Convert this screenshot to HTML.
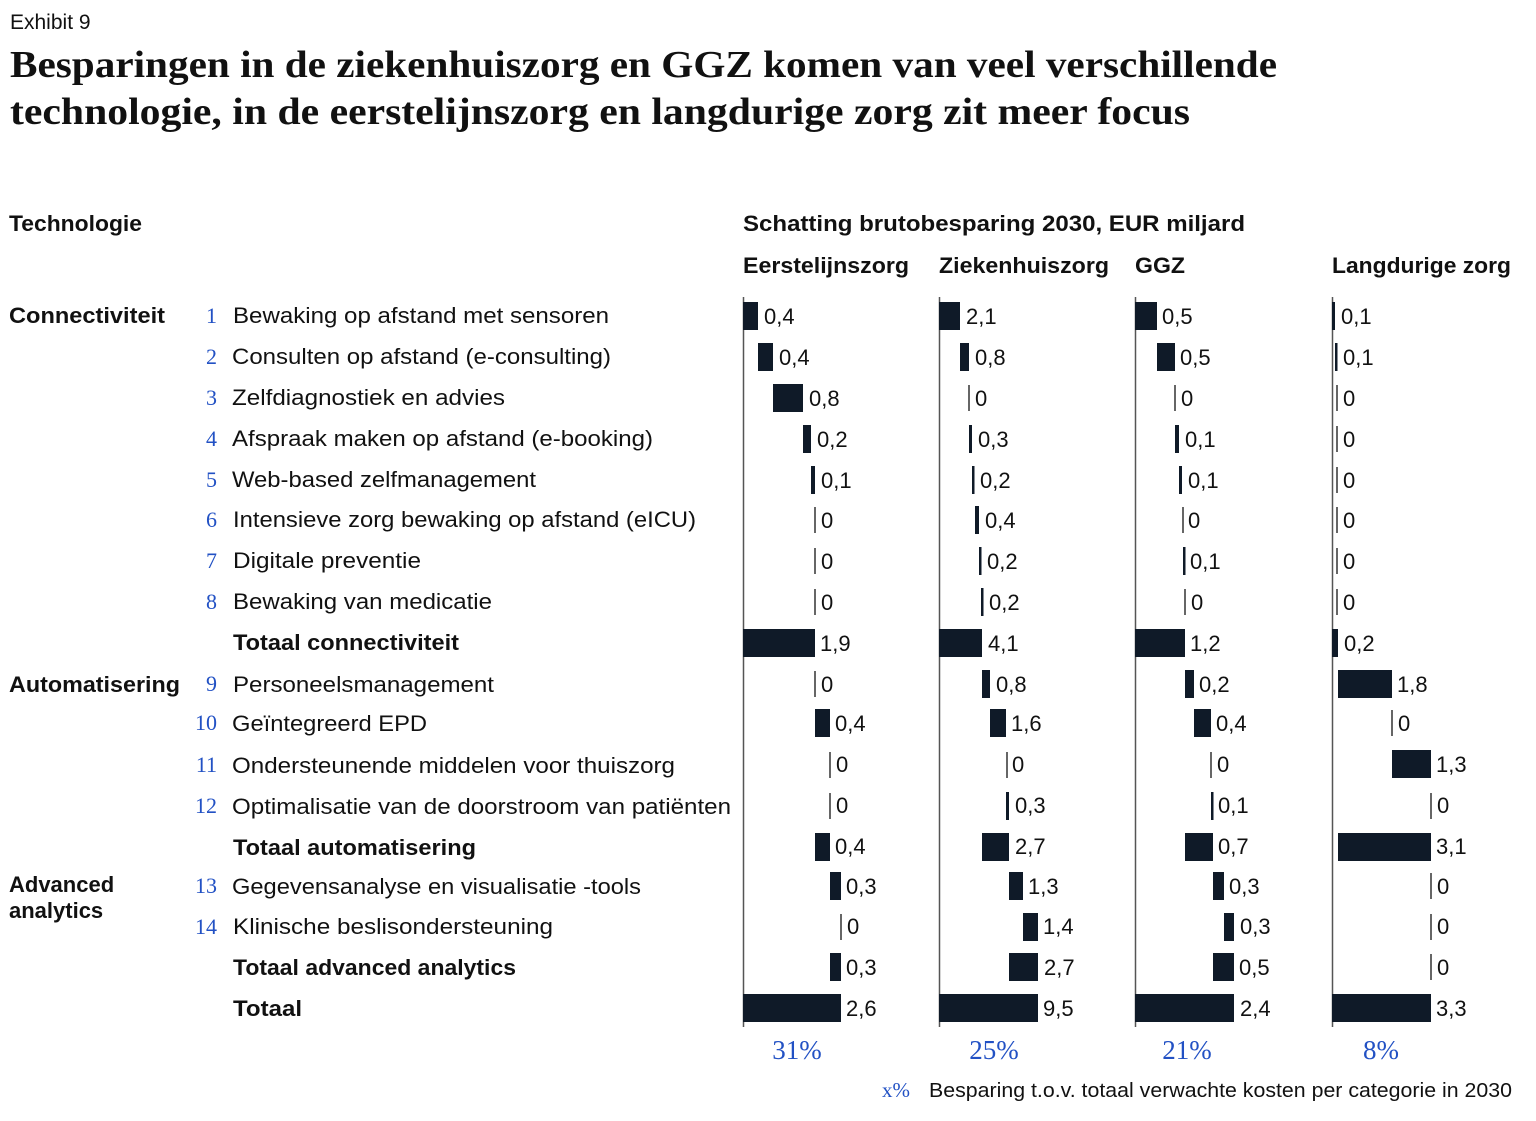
<!DOCTYPE html>
<html><head><meta charset="utf-8"><style>
html,body{margin:0;padding:0;background:#fff}
svg{display:block}
.s{font-family:"Liberation Sans",sans-serif;fill:#111}
.b{font-weight:bold}
.n{font-family:"Liberation Serif",serif;fill:#2251c4}
.v{font-family:"Liberation Sans",sans-serif;fill:#111;font-size:22px}
</style></head><body>
<svg width="1536" height="1121" viewBox="0 0 1536 1121" xmlns="http://www.w3.org/2000/svg">
<text class="s" x="10" y="29" font-size="21">Exhibit 9</text>
<text x="10" y="77" font-family="Liberation Serif,serif" font-weight="bold" font-size="38" fill="#111" textLength="1267" lengthAdjust="spacingAndGlyphs">Besparingen in de ziekenhuiszorg en GGZ komen van veel verschillende</text>
<text x="10" y="124" font-family="Liberation Serif,serif" font-weight="bold" font-size="38" fill="#111" textLength="1180" lengthAdjust="spacingAndGlyphs">technologie, in de eerstelijnszorg en langdurige zorg zit meer focus</text>

<g class="s b" font-size="22">
<text x="9" y="231" textLength="133" lengthAdjust="spacingAndGlyphs">Technologie</text>
<text x="743" y="231" textLength="502" lengthAdjust="spacingAndGlyphs">Schatting brutobesparing 2030,  EUR miljard</text>
<text x="743" y="273" textLength="166" lengthAdjust="spacingAndGlyphs">Eerstelijnszorg</text>
<text x="939" y="273" textLength="170" lengthAdjust="spacingAndGlyphs">Ziekenhuiszorg</text>
<text x="1135" y="273" textLength="50" lengthAdjust="spacingAndGlyphs">GGZ</text>
<text x="1332" y="273" textLength="179" lengthAdjust="spacingAndGlyphs">Langdurige zorg</text>
<text x="9" y="323" textLength="156" lengthAdjust="spacingAndGlyphs">Connectiviteit</text>
<text x="9" y="692" textLength="171" lengthAdjust="spacingAndGlyphs">Automatisering</text>
<text x="9" y="892">Advanced</text>
<text x="9" y="918">analytics</text>
</g>

<g class="n" font-size="22" text-anchor="end">
<text x="217" y="323">1</text><text x="217" y="364">2</text><text x="217" y="405">3</text><text x="217" y="446">4</text><text x="217" y="487">5</text><text x="217" y="527">6</text><text x="217" y="568">7</text><text x="217" y="609">8</text><text x="217" y="691">9</text><text x="217" y="730">10</text><text x="217" y="772">11</text><text x="217" y="813">12</text><text x="217" y="893">13</text><text x="217" y="934">14</text>
</g>

<g class="s" font-size="22">
<text x="233" y="323" textLength="376" lengthAdjust="spacingAndGlyphs">Bewaking op afstand met sensoren</text>
<text x="232" y="364" textLength="379" lengthAdjust="spacingAndGlyphs">Consulten op afstand (e-consulting)</text>
<text x="232" y="405" textLength="273" lengthAdjust="spacingAndGlyphs">Zelfdiagnostiek en advies</text>
<text x="232" y="446" textLength="421" lengthAdjust="spacingAndGlyphs">Afspraak maken op afstand (e-booking)</text>
<text x="232" y="487" textLength="304" lengthAdjust="spacingAndGlyphs">Web-based zelfmanagement</text>
<text x="233" y="527" textLength="463" lengthAdjust="spacingAndGlyphs">Intensieve zorg bewaking op afstand (eICU)</text>
<text x="233" y="568" textLength="188" lengthAdjust="spacingAndGlyphs">Digitale preventie</text>
<text x="233" y="609" textLength="259" lengthAdjust="spacingAndGlyphs">Bewaking van medicatie</text>
<text x="233" y="650" class="b" textLength="226" lengthAdjust="spacingAndGlyphs">Totaal connectiviteit</text>
<text x="233" y="692" textLength="261" lengthAdjust="spacingAndGlyphs">Personeelsmanagement</text>
<text x="232" y="731" textLength="195" lengthAdjust="spacingAndGlyphs">Geïntegreerd EPD</text>
<text x="232" y="773" textLength="443" lengthAdjust="spacingAndGlyphs">Ondersteunende middelen voor thuiszorg</text>
<text x="232" y="814" textLength="499" lengthAdjust="spacingAndGlyphs">Optimalisatie van de doorstroom van patiënten</text>
<text x="233" y="855" class="b" textLength="243" lengthAdjust="spacingAndGlyphs">Totaal automatisering</text>
<text x="232" y="894" textLength="409" lengthAdjust="spacingAndGlyphs">Gegevensanalyse en visualisatie -tools</text>
<text x="233" y="934" textLength="320" lengthAdjust="spacingAndGlyphs">Klinische beslisondersteuning</text>
<text x="233" y="975" class="b" textLength="283" lengthAdjust="spacingAndGlyphs">Totaal advanced analytics</text>
<text x="233" y="1016" class="b" textLength="69" lengthAdjust="spacingAndGlyphs">Totaal</text>
</g>

<!-- axes -->
<g stroke="#555" stroke-width="1.5">
<line x1="743.5" y1="297" x2="743.5" y2="1027"/><line x1="939.5" y1="297" x2="939.5" y2="1027"/><line x1="1135.5" y1="297" x2="1135.5" y2="1027"/><line x1="1332.5" y1="297" x2="1332.5" y2="1027"/>
</g>

<!-- Eerstelijnszorg -->
<g fill="#0f1a28">
<rect x="743" y="302" width="15" height="28"/>
<rect x="758" y="343" width="15" height="28"/>
<rect x="773" y="384" width="30" height="28"/>
<rect x="803" y="425" width="8" height="28"/>
<rect x="811" y="466" width="4" height="28"/>
<rect x="743" y="629" width="72" height="28"/>
<rect x="815" y="709" width="15" height="28"/>
<rect x="815" y="833" width="15" height="28"/>
<rect x="830" y="872" width="11" height="28"/>
<rect x="830" y="953" width="11" height="28"/>
<rect x="743" y="994" width="98" height="28"/>
<!-- Ziekenhuis -->
<rect x="939" y="302" width="21" height="28"/>
<rect x="960" y="343" width="9" height="28"/>
<rect x="969" y="425" width="3" height="28"/>
<rect x="972" y="466" width="2.5" height="28"/>
<rect x="975" y="506" width="4" height="28"/>
<rect x="979" y="547" width="2.5" height="28"/>
<rect x="981" y="588" width="2.5" height="28"/>
<rect x="939" y="629" width="43" height="28"/>
<rect x="982" y="670" width="8" height="28"/>
<rect x="990" y="709" width="16" height="28"/>
<rect x="1006" y="792" width="3" height="28"/>
<rect x="982" y="833" width="27" height="28"/>
<rect x="1009" y="872" width="14" height="28"/>
<rect x="1023" y="913" width="15" height="28"/>
<rect x="1009" y="953" width="29" height="28"/>
<rect x="939" y="994" width="99" height="28"/>
<!-- GGZ -->
<rect x="1135" y="302" width="22" height="28"/>
<rect x="1157" y="343" width="18" height="28"/>
<rect x="1175" y="425" width="4" height="28"/>
<rect x="1179" y="466" width="3" height="28"/>
<rect x="1183" y="547" width="2.5" height="28"/>
<rect x="1135" y="629" width="50" height="28"/>
<rect x="1185" y="670" width="9" height="28"/>
<rect x="1194" y="709" width="17" height="28"/>
<rect x="1211" y="792" width="2.5" height="28"/>
<rect x="1185" y="833" width="28" height="28"/>
<rect x="1213" y="872" width="11" height="28"/>
<rect x="1224" y="913" width="10" height="28"/>
<rect x="1213" y="953" width="21" height="28"/>
<rect x="1135" y="994" width="99" height="28"/>
<!-- Langdurig -->
<rect x="1332" y="302" width="3" height="28"/>
<rect x="1335" y="343" width="2.5" height="28"/>
<rect x="1332" y="629" width="6" height="28"/>
<rect x="1338" y="670" width="54" height="28"/>
<rect x="1392" y="750" width="39" height="28"/>
<rect x="1338" y="833" width="93" height="28"/>
<rect x="1332" y="994" width="99" height="28"/>
</g>

<!-- zero ticks -->
<g stroke="#333" stroke-width="1.5">
<line x1="815" y1="507" x2="815" y2="533"/><line x1="815" y1="548" x2="815" y2="574"/><line x1="815" y1="589" x2="815" y2="615"/><line x1="815" y1="671" x2="815" y2="697"/><line x1="830" y1="752" x2="830" y2="778"/><line x1="830" y1="793" x2="830" y2="819"/><line x1="841" y1="914" x2="841" y2="940"/>
<line x1="969" y1="385" x2="969" y2="411"/><line x1="1007" y1="752" x2="1007" y2="778"/>
<line x1="1175" y1="385" x2="1175" y2="411"/><line x1="1183" y1="507" x2="1183" y2="533"/><line x1="1185" y1="589" x2="1185" y2="615"/><line x1="1211" y1="752" x2="1211" y2="778"/>
<line x1="1337" y1="385" x2="1337" y2="411"/><line x1="1337" y1="426" x2="1337" y2="452"/><line x1="1337" y1="467" x2="1337" y2="493"/><line x1="1337" y1="507" x2="1337" y2="533"/><line x1="1337" y1="548" x2="1337" y2="574"/><line x1="1337" y1="589" x2="1337" y2="615"/>
<line x1="1392" y1="710" x2="1392" y2="736"/><line x1="1431" y1="793" x2="1431" y2="819"/><line x1="1431" y1="873" x2="1431" y2="899"/><line x1="1431" y1="914" x2="1431" y2="940"/><line x1="1431" y1="954" x2="1431" y2="980"/>
</g>

<!-- values -->
<g class="v">
<text x="764" y="324">0,4</text><text x="779" y="365">0,4</text><text x="809" y="406">0,8</text><text x="817" y="447">0,2</text><text x="821" y="488">0,1</text><text x="821" y="528">0</text><text x="821" y="569">0</text><text x="821" y="610">0</text><text x="820" y="651">1,9</text><text x="821" y="692">0</text><text x="835" y="731">0,4</text><text x="836" y="772">0</text><text x="836" y="813">0</text><text x="835" y="854">0,4</text><text x="846" y="894">0,3</text><text x="847" y="934">0</text><text x="846" y="975">0,3</text><text x="846" y="1016">2,6</text>

<text x="966" y="324">2,1</text><text x="975" y="365">0,8</text><text x="975" y="406">0</text><text x="978" y="447">0,3</text><text x="980" y="488">0,2</text><text x="985" y="528">0,4</text><text x="987" y="569">0,2</text><text x="989" y="610">0,2</text><text x="988" y="651">4,1</text><text x="996" y="692">0,8</text><text x="1011" y="731">1,6</text><text x="1012" y="772">0</text><text x="1015" y="813">0,3</text><text x="1015" y="854">2,7</text><text x="1028" y="894">1,3</text><text x="1043" y="934">1,4</text><text x="1044" y="975">2,7</text><text x="1043" y="1016">9,5</text>

<text x="1162" y="324">0,5</text><text x="1180" y="365">0,5</text><text x="1181" y="406">0</text><text x="1185" y="447">0,1</text><text x="1188" y="488">0,1</text><text x="1188" y="528">0</text><text x="1190" y="569">0,1</text><text x="1191" y="610">0</text><text x="1190" y="651">1,2</text><text x="1199" y="692">0,2</text><text x="1216" y="731">0,4</text><text x="1217" y="772">0</text><text x="1218" y="813">0,1</text><text x="1218" y="854">0,7</text><text x="1229" y="894">0,3</text><text x="1240" y="934">0,3</text><text x="1239" y="975">0,5</text><text x="1240" y="1016">2,4</text>

<text x="1341" y="324">0,1</text><text x="1343" y="365">0,1</text><text x="1343" y="406">0</text><text x="1343" y="447">0</text><text x="1343" y="488">0</text><text x="1343" y="528">0</text><text x="1343" y="569">0</text><text x="1343" y="610">0</text><text x="1344" y="651">0,2</text><text x="1397" y="692">1,8</text><text x="1398" y="731">0</text><text x="1436" y="772">1,3</text><text x="1437" y="813">0</text><text x="1436" y="854">3,1</text><text x="1437" y="894">0</text><text x="1437" y="934">0</text><text x="1437" y="975">0</text><text x="1436" y="1016">3,3</text>
</g>

<g class="n" font-size="27" text-anchor="middle">
<text x="797" y="1059">31%</text><text x="994" y="1059">25%</text><text x="1187" y="1059">21%</text><text x="1381" y="1059">8%</text>
</g>
<text class="n" x="882" y="1097" font-size="21">x%</text>
<text class="s" x="929" y="1097" font-size="20" textLength="583" lengthAdjust="spacingAndGlyphs">Besparing t.o.v. totaal verwachte kosten per categorie in 2030</text>
</svg>
</body></html>
